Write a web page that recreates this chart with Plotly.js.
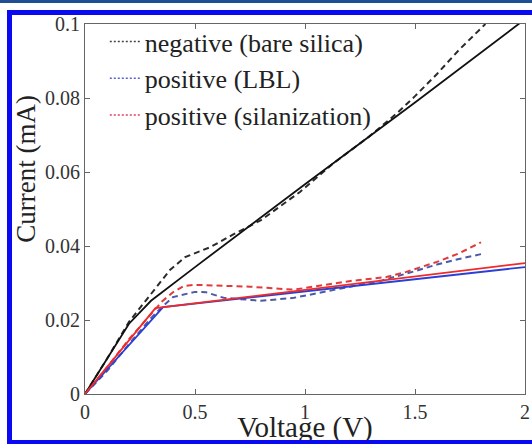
<!DOCTYPE html>
<html>
<head>
<meta charset="utf-8">
<script src="https://cdn.plot.ly/plotly-3.0.1.min.js"></script>
<style>
  html, body { margin: 0; padding: 0; background: #fff; }
  #wrap { position: relative; width: 532px; height: 444px; overflow: hidden; }
  #chart { position: absolute; left: 0; top: 0; width: 532px; height: 444px; }
  .b { position: absolute; pointer-events: none; }
</style>
</head>
<body>
<div id="wrap">
  <div id="chart"></div>
  <div class="b" style="left:0;top:0;width:532px;height:3px;background:#1f4f92;"></div>
  <div class="b" style="left:7px;top:10px;width:530px;height:5px;background:#0a0af2;"></div>
  <div class="b" style="left:7px;top:10px;width:5px;height:440px;background:#0a0af2;"></div>
  <div class="b" style="left:7px;top:440px;width:530px;height:4px;background:#0a0af2;"></div>
</div>
<script>
// Legend labels
const legendNames = ["negative (bare silica)", "positive (LBL)", "positive (silanization)"];

// Solid curves (model)
const negSolidV = [0, 0.1, 0.2, 0.3, 0.5, 1.0, 1.5, 2.0];
const negSolidI = [0, 0.0095, 0.019, 0.0252, 0.0343, 0.0567, 0.0788, 0.1013];

const lblSolidV = [0, 0.355, 2.0];
const lblSolidI = [0, 0.0235, 0.0343];

const silSolidV = [0, 0.32, 2.0];
const silSolidI = [0, 0.0232, 0.0354];

// Dashed curves (measured)
const negDashV = [0, 0.1, 0.2, 0.3, 0.386, 0.455, 0.57, 0.67, 0.8, 0.977, 1.13, 1.29, 1.42, 1.5, 1.6, 1.7, 1.82];
const negDashI = [0, 0.0095, 0.0195, 0.027, 0.0335, 0.037, 0.0397, 0.043, 0.047, 0.0546, 0.0624, 0.0695, 0.076, 0.0805, 0.0865, 0.093, 0.1];

const lblDashV = [0, 0.1, 0.2, 0.3, 0.35, 0.4, 0.5, 0.55, 0.63, 0.7, 0.8, 0.95, 1.1, 1.2, 1.35, 1.5, 1.6, 1.7, 1.8];
const lblDashI = [0, 0.0062, 0.0135, 0.0205, 0.0235, 0.0262, 0.0276, 0.0275, 0.026, 0.0256, 0.0252, 0.026, 0.0278, 0.029, 0.0307, 0.0332, 0.035, 0.0365, 0.0378];

const silDashV = [0, 0.1, 0.2, 0.3, 0.35, 0.4, 0.45, 0.5, 0.6, 0.75, 0.95, 1.1, 1.2, 1.37, 1.46, 1.6, 1.7, 1.8];
const silDashI = [0, 0.0072, 0.0148, 0.0218, 0.025, 0.0275, 0.0292, 0.0295, 0.0293, 0.029, 0.0282, 0.0295, 0.0305, 0.0316, 0.033, 0.0357, 0.038, 0.041];

// Axis ticks
const xTicks = [0, 0.5, 1, 1.5, 2];
const xTickText = ["0", "0.5", "1", "1.5", "2"];
const yTicks = [0, 0.02, 0.04, 0.06, 0.08, 0.1];
const yTickText = ["0", "0.02", "0.04", "0.06", "0.08", "0.1"];

const FONT = "Liberation Serif, Times New Roman, serif";

const traces = [
  {x: negDashV, y: negDashI, mode: "lines", showlegend: false, line: {color: "#2a2a2a", width: 2, dash: "6px,4px"}},
  {x: lblDashV, y: lblDashI, mode: "lines", showlegend: false, line: {color: "#4a5aa8", width: 2, dash: "6px,4px"}},
  {x: silDashV, y: silDashI, mode: "lines", showlegend: false, line: {color: "#e23a3a", width: 2, dash: "6px,4px"}},
  {x: negSolidV, y: negSolidI, mode: "lines", showlegend: false, line: {color: "#111111", width: 1.8}},
  {x: lblSolidV, y: lblSolidI, mode: "lines", showlegend: false, line: {color: "#2b3fd6", width: 1.8}},
  {x: silSolidV, y: silSolidI, mode: "lines", showlegend: false, line: {color: "#ee2a2a", width: 1.8}},
  // legend entries
  {x: [null], y: [null], mode: "lines", name: legendNames[0], line: {color: "#444444", width: 1.5, dash: "2px,2px"}},
  {x: [null], y: [null], mode: "lines", name: legendNames[1], line: {color: "#5560c8", width: 1.5, dash: "2px,2px"}},
  {x: [null], y: [null], mode: "lines", name: legendNames[2], line: {color: "#e0405a", width: 1.5, dash: "2px,2px"}}
];

const axisCommon = {
  showline: true, linecolor: "#666", linewidth: 1, mirror: "ticks",
  ticks: "inside", ticklen: 5, tickcolor: "#666", tickwidth: 1,
  showgrid: false, zeroline: false,
  tickfont: {family: FONT, size: 20, color: "#333"}
};

const layout = {
  width: 532, height: 444,
  margin: {l: 85, r: 7, t: 24, b: 50},
  paper_bgcolor: "#ffffff", plot_bgcolor: "#ffffff",
  showlegend: true,
  legend: {
    x: 0.045, y: 1.016, xanchor: "left", yanchor: "top",
    bgcolor: "rgba(0,0,0,0)", borderwidth: 0,
    font: {family: FONT, size: 26, color: "#222"},
    tracegroupgap: 0
  },
  xaxis: Object.assign({}, axisCommon, {
    range: [0, 2], tickvals: xTicks, ticktext: xTickText,
    title: {text: "Voltage (V)", font: {family: FONT, size: 29, color: "#222"}, standoff: 0}
  }),
  yaxis: Object.assign({}, axisCommon, {
    range: [0, 0.1], tickvals: yTicks, ticktext: yTickText
  }),
  annotations: [{
    text: "Current (mA)", xref: "paper", yref: "paper", x: -0.135, y: 0.608,
    xanchor: "center", yanchor: "middle", textangle: -90, showarrow: false,
    font: {family: FONT, size: 27, color: "#222"}
  }]
};

Plotly.newPlot("chart", traces, layout, {displayModeBar: false, staticPlot: true});
</script>
</body>
</html>
